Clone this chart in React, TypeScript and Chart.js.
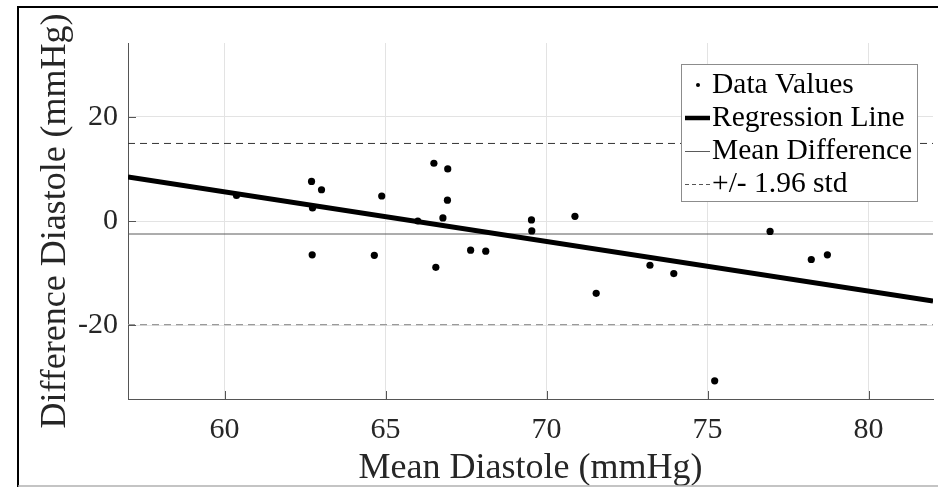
import React, { useEffect, useRef } from "react";
import { Chart, registerables } from "chart.js";

Chart.register(...registerables);

// ---- data ----
const meanDiastole = [60.37, 62.7, 63.01, 62.73, 64.88, 66.5, 66.93, 66.92, 66.78, 66.0, 62.72, 64.65, 66.56, 67.64, 68.11, 69.53, 69.54, 70.88, 73.21, 71.54, 73.95, 75.22, 76.94, 78.22, 78.72];
const diffDiastole = [4.9, 7.6, 6.0, 2.5, 4.8, 11.1, 10.0, 4.0, 0.6, 0.0, -6.5, -6.6, -8.9, -5.6, -5.8, 0.2, -1.9, 0.9, -8.5, -13.9, -10.1, -30.7, -2.0, -7.4, -6.5];
const regressionX = [57, 82];
const regressionY = [8.46, -15.4];
const meanDifference = -2.5;
const upperLimit = 14.9;
const lowerLimit = -19.9;
const xRange = [57, 82];
const yRange = [-34.2, 34.2];
const xTicks = [60, 65, 70, 75, 80];
const yTicks = [-20, 0, 20];
const legendLabels = ["Data Values", "Regression Line", "Mean Difference", "+/- 1.96 std"];
const xTitle = "Mean Diastole (mmHg)";
const yTitle = "Difference Diastole (mmHg)";

const FONT = "'Liberation Serif', 'Times New Roman', serif";
const TEXT = "#262626";
const AXIS = "#555555";

const frameAndTicks = {
  id: "frameAndTicks",
  afterDraw(chart: any) {
    const { ctx, chartArea, scales } = chart;
    const x = scales.x;
    const y = scales.y;
    ctx.save();
    // inward tick marks
    ctx.strokeStyle = AXIS;
    ctx.lineWidth = 1;
    ctx.beginPath();
    xTicks.forEach((v) => {
      const px = Math.round(x.getPixelForValue(v)) + 0.5;
      ctx.moveTo(px, chartArea.bottom);
      ctx.lineTo(px, chartArea.bottom - 8);
    });
    yTicks.forEach((v) => {
      const py = Math.round(y.getPixelForValue(v)) + 0.5;
      ctx.moveTo(chartArea.left, py);
      ctx.lineTo(chartArea.left + 8, py);
    });
    ctx.stroke();

    // figure frame
    ctx.strokeStyle = "#000";
    ctx.lineWidth = 2;
    ctx.beginPath();
    ctx.moveTo(18, 487);
    ctx.lineTo(18, 7);
    ctx.lineTo(938, 7);
    ctx.stroke();
    ctx.strokeStyle = "#b0b0b0";
    ctx.lineWidth = 1.5;
    ctx.beginPath();
    ctx.moveTo(18, 486);
    ctx.lineTo(938, 486);
    ctx.stroke();

    // legend
    const bx = 681, by = 64.5, bw = 236, bh = 137;
    ctx.fillStyle = "#fff";
    ctx.fillRect(bx, by, bw, bh);
    ctx.strokeStyle = "#8c8c8c";
    ctx.lineWidth = 1;
    ctx.strokeRect(bx + 0.5, by, bw, bh);
    const rows = [84, 117, 150.5, 183.5];
    const ds = chart.data.datasets;
    ctx.font = `29.5px ${FONT}`;
    ctx.textBaseline = "middle";
    ctx.textAlign = "left";
    rows.forEach((ry, i) => {
      if (i === 0) {
        ctx.fillStyle = ds[0].pointBackgroundColor;
        ctx.beginPath();
        ctx.arc(698, ry + 1, 2, 0, Math.PI * 2);
        ctx.fill();
      } else {
        const d = ds[i];
        ctx.strokeStyle = i === 3 ? "#555" : d.borderColor;
        ctx.lineWidth = i === 1 ? 4.5 : 1;
        ctx.setLineDash(i === 3 ? [4, 3] : []);
        ctx.beginPath();
        ctx.moveTo(685, ry + 1);
        ctx.lineTo(710, ry + 1);
        ctx.stroke();
        ctx.setLineDash([]);
      }
      ctx.fillStyle = "#000";
      ctx.fillText(legendLabels[i], 712, ry + 1);
    });
    ctx.restore();
  },
};

export default function App() {
  const ref = useRef<HTMLCanvasElement>(null);
  useEffect(() => {
    const canvas = ref.current!;
    const hline = (v: number) => xRange.map((xx) => ({ x: xx, y: v }));
    const chart = new Chart(canvas, {
      type: "scatter",
      data: {
        datasets: [
          {
            label: legendLabels[0],
            data: meanDiastole.map((m, i) => ({ x: m, y: diffDiastole[i] })),
            pointBackgroundColor: "#000",
            pointBorderColor: "#000",
            pointRadius: 3.6,
            pointBorderWidth: 0,
            showLine: false,
            order: 1,
          } as any,
          {
            label: legendLabels[1],
            type: "line",
            data: regressionX.map((xx, i) => ({ x: xx, y: regressionY[i] })),
            borderColor: "#000",
            borderWidth: 5,
            pointRadius: 0,
            order: 0,
          },
          {
            label: legendLabels[2],
            type: "line",
            data: hline(meanDifference),
            borderColor: "#5a5a5a",
            borderWidth: 1,
            pointRadius: 0,
            order: 2,
          },
          {
            label: legendLabels[3],
            type: "line",
            data: hline(upperLimit),
            borderColor: "#333333",
            borderWidth: 1,
            borderDash: [7, 5],
            pointRadius: 0,
            order: 3,
          },
          {
            label: legendLabels[3],
            type: "line",
            data: hline(lowerLimit),
            borderColor: "#9a9a9a",
            borderWidth: 1.2,
            borderDash: [7, 5],
            pointRadius: 0,
            order: 4,
          },
        ],
      },
      options: {
        animation: false,
        responsive: false,
        layout: { padding: { top: 43, right: 5, left: 0, bottom: 0 } },
        plugins: { legend: { display: false }, tooltip: { enabled: false } },
        scales: {
          x: {
            type: "linear",
            min: xRange[0],
            max: xRange[1],
            afterBuildTicks: (s: any) => {
              s.ticks = xTicks.map((v) => ({ value: v }));
            },
            afterFit: (s: any) => {
              s.height = 88;
            },
            grid: { color: "#e3e3e3", drawTicks: false },
            border: { color: AXIS, width: 1 },
            ticks: {
              padding: 13,
              color: TEXT,
              font: { family: FONT, size: 30 },
              maxRotation: 0,
            },
            title: {
              display: true,
              text: xTitle,
              color: TEXT,
              font: { family: FONT, size: 36, lineHeight: 1.0 },
              padding: { top: 0, bottom: 0 },
            },
          },
          y: {
            type: "linear",
            min: yRange[0],
            max: yRange[1],
            afterBuildTicks: (s: any) => {
              s.ticks = yTicks.map((v) => ({ value: v }));
            },
            afterFit: (s: any) => {
              s.width = 128;
            },
            grid: { color: "#e3e3e3", drawTicks: false },
            border: { color: AXIS, width: 1 },
            ticks: {
              padding: 10,
              color: TEXT,
              font: { family: FONT, size: 30 },
            },
            title: {
              display: true,
              text: yTitle,
              color: TEXT,
              font: { family: FONT, size: 36, lineHeight: 1.0 },
              padding: { top: 38, bottom: 0 },
            },
          },
        },
      },
      plugins: [frameAndTicks],
    });
    return () => chart.destroy();
  }, []);
  return (
    <div style={{ position: "absolute", left: 0, top: 0, width: 938, height: 487, background: "#fff" }}>
      <canvas ref={ref} width={938} height={487} style={{ display: "block" }} />
    </div>
  );
}
